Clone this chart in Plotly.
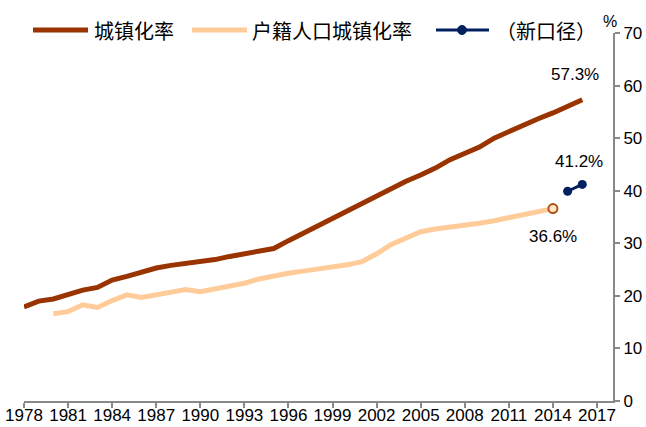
import plotly.graph_objects as go

# 城镇化率 (1978-2016)
urban_years = list(range(1978, 2017))
urban_rate = [17.9, 19.0, 19.4, 20.2, 21.1, 21.6, 23.0, 23.7, 24.5, 25.3,
              25.8, 26.2, 26.4, 26.9, 27.5, 28.0, 28.5, 29.0, 30.5, 31.9,
              33.4, 34.8, 36.2, 37.7, 39.1, 40.5, 41.8, 43.0, 44.3, 45.9,
              47.0, 48.3, 50.0, 51.3, 52.6, 53.7, 54.8, 56.1, 57.3]

# 户籍人口城镇化率 (1980-2014)
hukou_years = list(range(1980, 2015))
hukou_rate = [16.6, 17.0, 18.3, 17.8, 19.1, 20.2, 19.7, 20.2, 20.8, 21.2,
              20.8, 21.3, 21.9, 22.4, 23.2, 23.8, 24.3, 24.7, 25.1, 25.4,
              25.9, 26.5, 28.0, 29.8, 31.0, 32.2, 32.7, 33.0, 33.4, 33.8,
              34.3, 34.9, 35.5, 36.0, 36.6]

# （新口径） 2015-2016
new_years = [2015, 2016]
new_rate = [39.9, 41.2]

x_ticks = list(range(1978, 2018, 3))

BROWN = '#993300'
PEACH = '#FFCC99'
NAVY = '#002060'
AXIS = '#898989'

fig = go.Figure()
fig.add_trace(go.Scatter(x=urban_years, y=urban_rate, mode='lines',
                         line=dict(color=BROWN, width=5), name='城镇化率'))
fig.add_trace(go.Scatter(x=hukou_years, y=hukou_rate, mode='lines',
                         line=dict(color=PEACH, width=5), name='户籍人口城镇化率'))
fig.add_trace(go.Scatter(x=hukou_years[-1:], y=hukou_rate[-1:], mode='markers',
                         marker=dict(size=9, color='#FFE6CC',
                                     line=dict(color='#B4500F', width=2)),
                         showlegend=False))
fig.add_trace(go.Scatter(x=new_years, y=new_rate, mode='lines+markers',
                         line=dict(color=NAVY, width=3),
                         marker=dict(size=9, color=NAVY), name='（新口径）'))

# value labels
lab_font = dict(family='Arial', size=17, color='#000000')
fig.add_annotation(x=urban_years[-1], y=urban_rate[-1], text=f'{urban_rate[-1]}%',
                   showarrow=False, xshift=-7, yshift=25, font=lab_font)
fig.add_annotation(x=new_years[-1], y=new_rate[-1], text=f'{new_rate[-1]}%',
                   showarrow=False, xshift=-3, yshift=23, font=lab_font)
fig.add_annotation(x=hukou_years[-1], y=hukou_rate[-1], text=f'{hukou_rate[-1]}%',
                   showarrow=False, xshift=0, yshift=-28, font=lab_font)

# hand-drawn legend above the plot
W, H = 589.0, 368.0
def px(x):
    return (x - 24) / W
def py(y):
    return (401 - y) / H

leg_y = py(30)
leg_font = dict(family='Noto Sans CJK SC', size=20, color='#000000')
legend_items = [
    (33, 88, 92, BROWN, 5, '城镇化率'),
    (192, 247, 250, PEACH, 5, '户籍人口城镇化率'),
    (436, 489, 494, NAVY, 3, '（新口径）'),
]
for x0, x1, xt, col, w, txt in legend_items:
    fig.add_shape(type='line', xref='paper', yref='paper',
                  x0=px(x0), x1=px(x1), y0=leg_y, y1=leg_y,
                  line=dict(color=col, width=w))
    fig.add_annotation(xref='paper', yref='paper', x=px(xt), y=leg_y,
                       xanchor='left', yanchor='middle', text=txt,
                       showarrow=False, font=leg_font)
fig.add_shape(type='circle', xref='paper', yref='paper',
              x0=px(457.5), x1=px(466.5), y0=py(34.5), y1=py(25.5),
              fillcolor=NAVY, line=dict(color=NAVY, width=1))

fig.add_annotation(xref='paper', yref='paper', x=px(610), y=py(21),
                   xanchor='center', yanchor='middle',
                   text='%', showarrow=False,
                   font=dict(family='Arial', size=16, color='#000000'))

tick_font = dict(family='Arial', size=17, color='#000000')
fig.update_layout(
    width=646, height=427,
    margin=dict(l=24, r=33, t=33, b=26),
    plot_bgcolor='white', paper_bgcolor='white',
    showlegend=False,
    xaxis=dict(range=[1978, 2018.09], tickvals=x_ticks, showgrid=False,
               zeroline=False, showline=True, linecolor=AXIS, linewidth=2,
               ticks='outside', ticklen=5, tickcolor=AXIS, tickwidth=2,
               ticklabelstandoff=-7,
               tickfont=tick_font, automargin=False),
    yaxis=dict(range=[0, 70], dtick=10, side='right', showgrid=False,
               zeroline=False, showline=True, linecolor=AXIS, linewidth=2,
               ticks='outside', ticklen=5, tickcolor=AXIS, tickwidth=2,
               tickfont=tick_font, automargin=False),
)

# page body has a default margin; drop it so the figure sits at the window corner
fig.write_html('out.html', config={'displayModeBar': False},
               post_script="document.body.style.margin='0';")
